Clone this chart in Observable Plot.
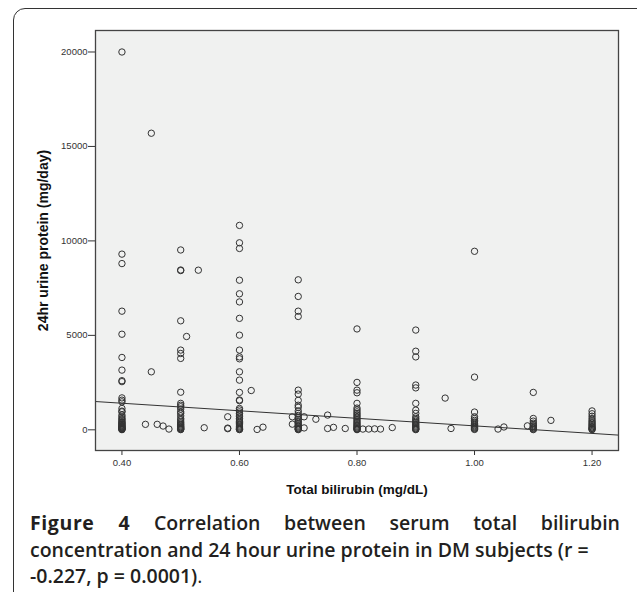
<!DOCTYPE html>
<html>
<head>
<meta charset="utf-8">
<script src="https://cdn.jsdelivr.net/npm/d3@7"></script>
<script src="https://cdn.jsdelivr.net/npm/@observablehq/plot@0.6"></script>
<style>
  html, body { margin: 0; padding: 0; background: #fff; }
  #wrap { position: relative; width: 637px; height: 592px; overflow: hidden; }
  #box { position: absolute; left: 13px; top: 8px; width: 640px; height: 620px;
         border: 1.5px solid #333; border-radius: 12px; box-sizing: border-box; }
  #chart { position: absolute; left: 0; top: 0; }
  #caption { position: absolute; left: 30px; top: 510px; width: 590px;
             font-family: "Open Sans", "Noto Sans", sans-serif; font-weight: 600;
             font-size: 19.5px; letter-spacing: 0px; line-height: 26.5px; color: #231f20; }
  #caption .l1 { text-align: justify; text-align-last: justify; }
  #caption .l1, #caption .l2, #caption .l3 { display: block; white-space: nowrap; }
  #caption b { font-weight: 700; letter-spacing: 0.6px; }
  #caption .dot { font-weight: 400; }
</style>
</head>
<body>
<div id="wrap">
  <div id="box"></div>
  <div id="chart"></div>
  <div id="caption">
    <div class="l1" style="white-space: normal;"><b>Figure 4</b> Correlation between serum total bilirubin</div>
    <div class="l2">concentration and 24 hour urine protein in DM subjects (r =</div>
    <div class="l3">-0.227, p = 0.0001)<span class="dot">.</span></div>
  </div>
</div>
<script>
// ---- axis ticks and labels ----
const xTicks = [0.40, 0.60, 0.80, 1.00, 1.20];
const yTicks = [0, 5000, 10000, 15000, 20000];
const xLabel = "Total bilirubin (mg/dL)";
const yLabel = "24hr urine protein (mg/day)";

// ---- data: 24hr urine protein (mg/day) per total bilirubin level (mg/dL) ----
const p040 = [20000, 9300, 8800, 6280, 5060, 3830, 3160, 2600, 2550, 1690, 1570, 1480, 1130, 990, 950, 780, 690, 600, 550, 480, 420, 380, 340, 300, 260, 220, 190, 160, 130, 100, 80, 60, 40, 20, 10];
const p044 = [290];
const p045 = [15700, 3070];
const p046 = [290];
const p047 = [200];
const p048 = [40];
const p050 = [9520, 8460, 8430, 5770, 4220, 4040, 3780, 1990, 1400, 1300, 1220, 1100, 950, 870, 740, 600, 520, 420, 360, 300, 250, 200, 160, 120, 90, 60, 30, 10];
const p051 = [4940];
const p053 = [8450];
const p054 = [110];
const p058 = [690, 90, 60];
const p060 = [10820, 9900, 9600, 7920, 7200, 6770, 5900, 5010, 4220, 3860, 3760, 3070, 2630, 1980, 1580, 1540, 1130, 1050, 950, 870, 780, 690, 600, 520, 450, 380, 320, 260, 200, 150, 100, 60, 30, 10];
const p062 = [2080];
const p063 = [20];
const p064 = [140];
const p069 = [690, 300];
const p070 = [7940, 7060, 6280, 6000, 2100, 1890, 1560, 1300, 1190, 1000, 870, 760, 650, 560, 480, 400, 330, 260, 200, 150, 100, 60, 30, 10];
const p071 = [690, 100];
const p073 = [560];
const p075 = [780, 70];
const p076 = [130];
const p078 = [70];
const p080 = [5340, 2510, 2100, 1960, 1400, 1150, 1050, 950, 860, 780, 700, 620, 540, 460, 390, 320, 260, 200, 150, 100, 60, 30, 10];
const p081 = [40];
const p082 = [40];
const p083 = [50];
const p084 = [40];
const p086 = [120];
const p090 = [5280, 4160, 3860, 2370, 2220, 1400, 1040, 870, 690, 600, 520, 450, 380, 320, 260, 200, 150, 100, 60, 30, 10];
const p095 = [1680];
const p096 = [70];
const p100 = [9450, 2790, 940, 690, 600, 500, 420, 350, 290, 230, 180, 130, 90, 50, 20];
const p104 = [40];
const p105 = [150];
const p109 = [210];
const p110 = [1980, 600, 460, 350, 280, 220, 170, 120, 80, 40, 10];
const p113 = [500];
const p120 = [1000, 850, 720, 600, 500, 420, 350, 280, 220, 160, 110, 70, 30, 10];

const bilirubinLevels = [0.40, 0.44, 0.45, 0.46, 0.47, 0.48, 0.50, 0.51, 0.53, 0.54, 0.58, 0.60, 0.62, 0.63, 0.64, 0.69, 0.70, 0.71, 0.73, 0.75, 0.76, 0.78, 0.80, 0.81, 0.82, 0.83, 0.84, 0.86, 0.90, 0.95, 0.96, 1.00, 1.04, 1.05, 1.09, 1.10, 1.13, 1.20];
const proteinByLevel = [p040, p044, p045, p046, p047, p048, p050, p051, p053, p054, p058, p060, p062, p063, p064, p069, p070, p071, p073, p075, p076, p078, p080, p081, p082, p083, p084, p086, p090, p095, p096, p100, p104, p105, p109, p110, p113, p120];

// ---- fitted regression line (protein = a + b * bilirubin) ----
const fitIntercept = 2206;
const fitSlope = -1997;

const xDomain = [0.355, 1.245];
const yDomain = [-1095, 21138];

const points = bilirubinLevels.flatMap((x, i) => proteinByLevel[i].map(y => ({x, y})));
const fitLine = xDomain.map(x => ({x, y: fitIntercept + fitSlope * x}));

const fmtX = d => d.toFixed(2);
const fmtY = d => String(d);

const chart = Plot.plot({
  width: 637,
  height: 505,
  marginLeft: 95,
  marginRight: 19,
  marginTop: 30,
  marginBottom: 55,
  style: { background: "transparent", fontFamily: "'Liberation Sans', Arial, sans-serif", color: "#222" },
  x: { domain: xDomain, ticks: xTicks, tickFormat: fmtX },
  y: { domain: yDomain, ticks: yTicks, tickFormat: fmtY },
  marks: [
    Plot.frame({ fill: "#f0f1f0" }),
    Plot.axisY({ ticks: yTicks, tickFormat: fmtY, tickSize: 7, tickPadding: 1, fontSize: 9.5, label: null, stroke: "#333", fill: "#333" }),
    Plot.axisX({ ticks: xTicks, tickFormat: fmtX, tickSize: 5, tickPadding: 4, fontSize: 9.5, label: null, stroke: "#333", fill: "#333" }),
    Plot.line(fitLine, { x: "x", y: "y", stroke: "#333", strokeWidth: 1 }),
    Plot.dot(points, { x: "x", y: "y", r: 3.2, stroke: "#333", strokeWidth: 1, fill: "none" }),
    Plot.frame({ stroke: "#444", strokeWidth: 1.3 }),
    Plot.text([yLabel], { frameAnchor: "left", textAnchor: "middle", lineAnchor: "middle", rotate: -90, dx: -52, fontWeight: "bold", fontSize: 14, fill: "#111" }),
    Plot.text([xLabel], { frameAnchor: "bottom", textAnchor: "middle", lineAnchor: "middle", dy: 39, fontWeight: "bold", fontSize: 13.5, fill: "#111" })
  ]
});
document.getElementById("chart").appendChild(chart);
</script>
</body>
</html>
